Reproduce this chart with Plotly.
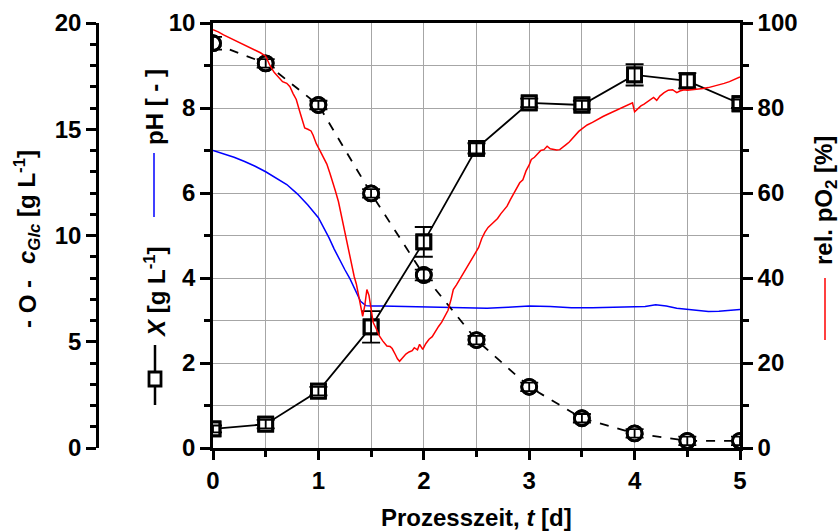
import plotly.graph_objects as go

# ---------------- data ----------------
t_samples = [0, 0.5, 1, 1.5, 2, 2.5, 3, 3.5, 4, 4.5, 5]
biomass_X = [0.45, 0.56, 1.34, 2.85, 4.85, 7.05, 8.12, 8.07, 8.78, 8.64, 8.1]
biomass_err = [0.08, 0.1, 0.1, 0.37, 0.35, 0.12, 0.1, 0.1, 0.25, 0.18, 0.1]
glucose = [19.05, 18.1, 16.14, 11.98, 8.14, 5.08, 2.88, 1.4, 0.69, 0.34, 0.34]
glucose_err = [0.3, 0.2, 0.2, 0.2, 0.25, 0.2, 0.2, 0.2, 0.2, 0.2, 0.2]

t_ph = [0, 0.1, 0.2, 0.3, 0.4, 0.5, 0.6, 0.7, 0.8, 0.9, 1.0, 1.05, 1.1, 1.15, 1.2,
        1.25, 1.3, 1.35, 1.4, 1.45, 1.5, 1.6, 1.8, 2.0, 2.2, 2.4, 2.6, 2.8, 3.0,
        3.2, 3.4, 3.6, 3.8, 4.0, 4.1, 4.2, 4.3, 4.4, 4.5, 4.6, 4.7, 4.8, 4.9, 5.0]
ph = [7.0, 6.92, 6.84, 6.74, 6.63, 6.5, 6.36, 6.2, 5.98, 5.72, 5.42, 5.2, 4.95,
      4.68, 4.42, 4.2, 3.98, 3.7, 3.45, 3.35, 3.34, 3.34, 3.33, 3.32, 3.31, 3.3,
      3.29, 3.31, 3.34, 3.33, 3.3, 3.3, 3.31, 3.31, 3.33, 3.37, 3.34, 3.29, 3.26,
      3.23, 3.21, 3.22, 3.24, 3.26]

t_po2 = [0.00, 0.05, 0.10, 0.15, 0.20, 0.25, 0.30, 0.35, 0.40, 0.45, 0.50, 0.54,
         0.58, 0.63, 0.66, 0.70, 0.73, 0.76, 0.79, 0.82, 0.85, 0.87, 0.90, 0.93,
         0.95, 0.98, 1.01, 1.05, 1.08, 1.11, 1.14, 1.16, 1.19, 1.21, 1.23, 1.26,
         1.28, 1.30, 1.32, 1.34, 1.36, 1.38, 1.40, 1.42, 1.44, 1.46, 1.48, 1.50,
         1.52, 1.55, 1.58, 1.61, 1.63, 1.65, 1.68, 1.70, 1.73, 1.75, 1.77, 1.80,
         1.83, 1.86, 1.89, 1.91, 1.94, 1.96, 1.99, 2.02, 2.05, 2.08, 2.11, 2.14,
         2.17, 2.20, 2.23, 2.26, 2.28, 2.31, 2.34, 2.37, 2.40, 2.43, 2.46, 2.49,
         2.52, 2.55, 2.58, 2.61, 2.64, 2.67, 2.70, 2.73, 2.76, 2.79, 2.82, 2.85,
         2.88, 2.91, 2.94, 2.97, 3.00, 3.02, 3.05, 3.08, 3.11, 3.14, 3.17, 3.20,
         3.23, 3.26, 3.29, 3.32, 3.35, 3.38, 3.41, 3.44, 3.47, 3.50, 3.55, 3.60,
         3.65, 3.70, 3.75, 3.80, 3.85, 3.90, 3.95, 3.98, 4.00, 4.03, 4.06, 4.09,
         4.12, 4.15, 4.18, 4.21, 4.24, 4.28, 4.32, 4.36, 4.40, 4.43, 4.47, 4.50,
         4.55, 4.60, 4.65, 4.70, 4.75, 4.80, 4.85, 4.90, 4.95, 5.00]
po2 = [98.4, 97.9, 97.2, 96.6, 96.0, 95.5, 94.8, 94.3, 93.6, 93.0, 92.2, 90.0,
       88.4, 87.0, 86.2, 85.8, 85.0, 83.4, 82.0, 79.4, 76.6, 75.3, 75.0, 74.6,
       73.6, 71.6, 70.2, 68.3, 66.8, 64.6, 62.4, 60.6, 58.0, 55.6, 53.5, 50.2,
       47.8, 45.6, 42.8, 40.3, 38.6, 36.0, 33.1, 31.0, 33.5, 37.3, 35.9, 33.0,
       29.5, 28.0, 26.3, 25.2, 24.6, 24.0, 23.9, 23.4, 22.0, 21.0, 20.4, 21.2,
       22.1, 22.6, 22.9, 23.6, 23.1, 24.4, 23.2, 24.6, 25.6, 26.2, 27.5, 28.6,
       29.6, 30.9, 32.4, 35.1, 37.3, 38.4, 39.6, 40.9, 42.0, 43.2, 44.6, 45.9,
       47.2, 49.3, 50.8, 51.9, 52.6, 53.4, 54.0, 55.1, 56.0, 56.9, 58.4, 59.8,
       61.3, 62.4, 63.1, 65.2, 66.6, 67.9, 68.4, 69.3, 70.0, 70.2, 71.0, 70.4,
       70.3, 70.1, 70.2, 70.9, 71.4, 72.0, 72.9, 73.7, 74.5, 75.1, 76.0, 76.6,
       77.4, 78.0, 78.6, 79.2, 79.8, 80.3, 81.0, 81.2, 79.1, 79.9, 80.5, 80.9,
       81.5, 82.1, 82.5, 81.8, 82.8, 83.6, 84.2, 84.3, 83.6, 84.0, 84.3, 84.2,
       84.3, 84.4, 84.6, 84.8, 85.1, 85.4, 85.8, 86.2, 86.7, 87.3]

x_ticks = [0, 1, 2, 3, 4, 5]

# ---------------- figure ----------------
W, H = 840, 532
FONT = "Liberation Sans, Arial, sans-serif"
tickfont = dict(family=FONT, size=24, color="black", weight="bold")

fig = go.Figure()

fig.add_trace(go.Scatter(x=t_ph, y=ph, mode="lines", line=dict(color="#0000ff", width=1.5),
                         yaxis="y", hoverinfo="skip"))
fig.add_trace(go.Scatter(x=t_po2, y=po2, mode="lines", line=dict(color="#ff0000", width=1.5),
                         yaxis="y3", hoverinfo="skip"))

# biomass
fig.add_trace(go.Scatter(x=t_samples, y=biomass_X, mode="lines",
                         line=dict(color="black", width=1.8), yaxis="y"))
fig.add_trace(go.Scatter(x=t_samples, y=biomass_X, mode="markers", yaxis="y",
                         marker=dict(symbol="square", size=14, color="white",
                                     line=dict(color="black", width=2.8))))
fig.add_trace(go.Scatter(x=t_samples, y=biomass_X, mode="markers", yaxis="y",
                         error_y=dict(type="data", array=biomass_err, color="black",
                                      thickness=1.8, width=9),
                         marker=dict(symbol="square-open", size=14, color="black",
                                     line=dict(color="black", width=2.8))))
# glucose
fig.add_trace(go.Scatter(x=t_samples, y=glucose, mode="lines", yaxis="y2",
                         line=dict(color="black", width=1.8, dash="dash")))
fig.add_trace(go.Scatter(x=t_samples, y=glucose, mode="markers", yaxis="y2",
                         marker=dict(symbol="circle", size=15, color="white",
                                     line=dict(color="black", width=2.8))))
fig.add_trace(go.Scatter(x=t_samples, y=glucose, mode="markers", yaxis="y2",
                         error_y=dict(type="data", array=glucose_err, color="black",
                                      thickness=1.8, width=9),
                         marker=dict(symbol="circle-open", size=15, color="black",
                                     line=dict(color="black", width=2.8))))

x0p, x1p = 213 / W, 740 / W
y0p, y1p = (H - 448) / H, (H - 23) / H
grid = "#a6a6a6"

fig.update_layout(
    width=W, height=H, margin=dict(l=0, r=0, t=0, b=0),
    plot_bgcolor="white", paper_bgcolor="white", showlegend=False,
    xaxis=dict(domain=[x0p, x1p], range=[0, 5], tickvals=x_ticks, showline=True,
               linecolor="black", linewidth=2.5, mirror=True, ticks="outside",
               ticklen=9, tickwidth=2.5, tickcolor="black", tickfont=tickfont,
               showgrid=True, gridcolor=grid, gridwidth=1.3, zeroline=False,
               minor=dict(dtick=0.5, ticks="outside", ticklen=6, tickwidth=2.5,
                          tickcolor="black", showgrid=True, gridcolor=grid, gridwidth=1.3),
               automargin=False, fixedrange=True),
    yaxis=dict(domain=[y0p, y1p], range=[0, 10], dtick=2, showline=True,
               linecolor="black", linewidth=2.5, ticks="outside", ticklen=10,
               tickwidth=2.5, tickcolor="black", tickfont=tickfont,
               showgrid=True, gridcolor=grid, gridwidth=1.3, zeroline=False,
               minor=dict(dtick=1, ticks="outside", ticklen=6, tickwidth=2.5,
                          tickcolor="black", showgrid=True, gridcolor=grid, gridwidth=1.3),
               automargin=False),
    yaxis2=dict(overlaying="y", anchor="free", position=97 / W, side="left",
                range=[0, 20], dtick=5, showline=True, linecolor="black", linewidth=2.5,
                ticks="outside", ticklen=10, tickwidth=2.5, tickcolor="black",
                tickfont=tickfont, showgrid=False, zeroline=False,
                minor=dict(dtick=1, ticks="outside", ticklen=6, tickwidth=2.5,
                           tickcolor="black"),
                automargin=False),
    yaxis3=dict(overlaying="y", anchor="x", side="right", range=[0, 100], dtick=20,
                showline=True, linecolor="black", linewidth=2.5, ticks="outside",
                ticklen=10, tickwidth=2.5, tickcolor="black", tickfont=tickfont,
                showgrid=False, zeroline=False,
                minor=dict(dtick=10, ticks="outside", ticklen=6, tickwidth=2.5,
                           tickcolor="black"),
                automargin=False),
)

titlefont = dict(family=FONT, size=24, color="black", weight="bold")


def py(p):
    return (H - p) / H


annos = [
    dict(text="Prozesszeit, <i>t</i> [d]", x=(x0p + x1p) / 2, y=py(517), textangle=0),
    dict(text="- O -", x=27 / W, y=py(304), textangle=-90),
    dict(text="<i>c</i><sub><i>Glc</i></sub> [g L<sup>-1</sup>]", x=27 / W,
         y=py(207), textangle=-90),
    dict(text="<i>X</i> [g L<sup>-1</sup>]", x=155 / W, y=py(292), textangle=-90),
    dict(text="pH [ - ]", x=155 / W, y=py(107), textangle=-90),
    dict(text="rel. pO<sub>2</sub> [%]", x=825 / W, y=py(201), textangle=-90),
]
for a in annos:
    fig.add_annotation(xref="paper", yref="paper", showarrow=False,
                       xanchor="center", yanchor="middle", font=titlefont, **a)

# legend-like line keys inside the axis titles
fig.add_shape(type="line", xref="paper", yref="paper", x0=155 / W, x1=155 / W,
              y0=py(405), y1=py(345), line=dict(color="black", width=2.5))
fig.add_shape(type="rect", xref="paper", yref="paper", x0=149 / W, x1=161 / W,
              y0=py(386), y1=py(372), fillcolor="white",
              line=dict(color="black", width=2.8))
fig.add_shape(type="line", xref="paper", yref="paper", x0=154 / W, x1=154 / W,
              y0=py(217), y1=py(153), line=dict(color="#0000ff", width=1.5))
fig.add_shape(type="line", xref="paper", yref="paper", x0=825 / W, x1=825 / W,
              y0=py(340), y1=py(278), line=dict(color="#ff0000", width=1.5))

fig.write_html("out.html")
